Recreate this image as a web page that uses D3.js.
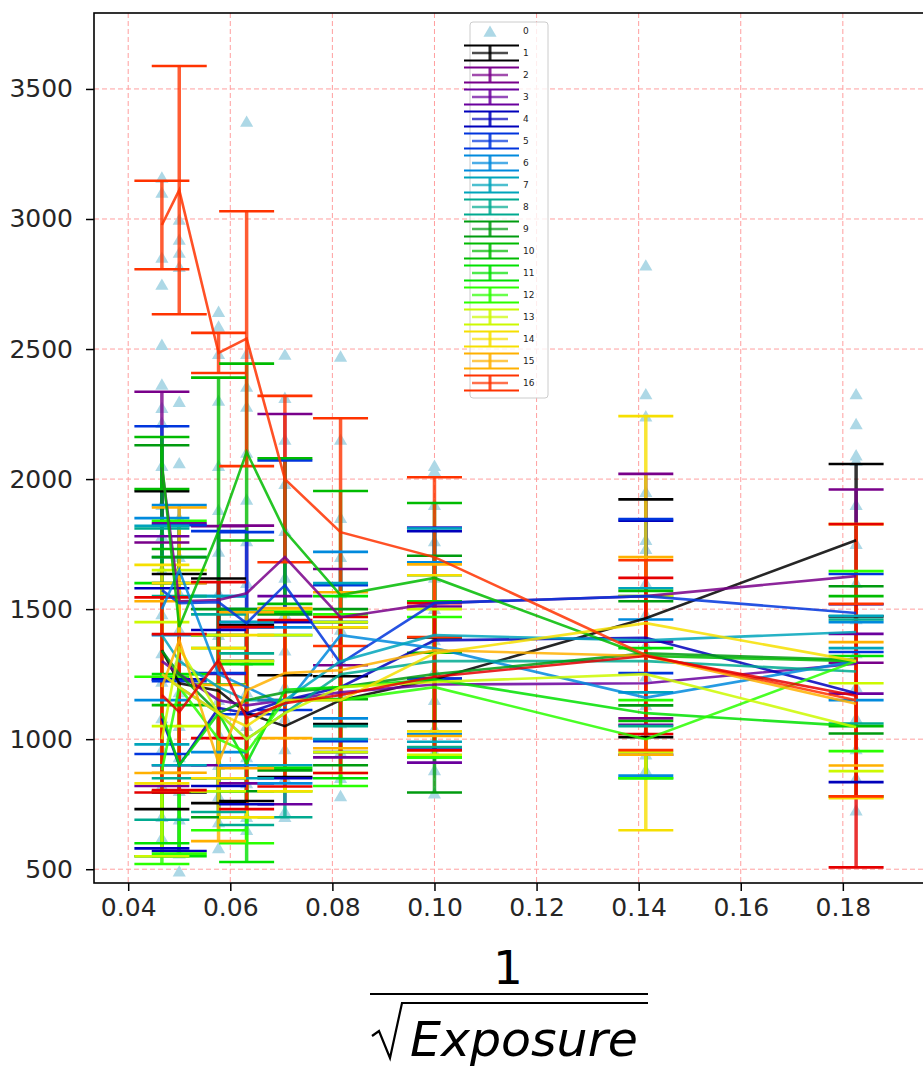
<!DOCTYPE html>
<html>
<head>
<meta charset="utf-8">
<script src="https://cdn.jsdelivr.net/npm/d3@7"></script>
<style>
  html, body { margin: 0; padding: 0; background: #ffffff; }
  svg { display: block; font-family: "DejaVu Sans", sans-serif; }
</style>
</head>
<body>
<svg id="chart" width="923" height="1068"></svg>
<script>
// x positions: 1 / sqrt(exposure)
const xVals = [0.0466, 0.05, 0.0577, 0.0632, 0.0707, 0.0816, 0.1, 0.1414, 0.1826];

const xTicks = [0.04, 0.06, 0.08, 0.10, 0.12, 0.14, 0.16, 0.18];
const yTicks = [500, 1000, 1500, 2000, 2500, 3000, 3500];

// raw observations (series 0), one list per x position
const rawPoints = [
  [3158, 3100, 2850, 2746, 2515, 2362, 2273, 2215, 2050, 1900, 1780, 1650, 1480, 1330, 1220, 1080, 960, 820, 700, 620],
  [2996, 2919, 2869, 2815, 2296, 2060, 1850, 1700, 1560, 1420, 1300, 1180, 1050, 930, 800, 690, 560, 490],
  [2642, 2585, 2480, 2300, 2050, 1880, 1720, 1560, 1400, 1270, 1150, 1020, 900, 780, 680, 580],
  [3373, 2480, 2354, 2277, 2100, 1920, 1760, 1600, 1450, 1300, 1180, 1050, 930, 830, 700, 650],
  [2477, 2311, 2150, 1980, 1800, 1620, 1480, 1340, 1200, 1080, 960, 850, 720, 700],
  [2470, 2150, 1850, 1700, 1560, 1420, 1300, 1180, 1060, 950, 850, 780],
  [2050, 2030, 1900, 1760, 1620, 1500, 1380, 1260, 1150, 1040, 950, 880, 790],
  [2820, 2325, 2240, 1950, 1765, 1730, 1600, 1480, 1360, 1240, 1130, 1020, 940, 880],
  [2325, 2210, 2090, 2070, 1900, 1750, 1600, 1460, 1330, 1200, 1080, 960, 850, 725]
];

// series labels shown in the legend
const legendLabels = ["0", "1", "2", "3", "4", "5", "6", "7", "8", "9", "10", "11", "12", "13", "14", "15", "16"];

// nipy_spectral samples, one per error-bar series (1..17)
const seriesColors = [
  "#000000", "#79008a", "#6a009d", "#0000bb", "#0035dd", "#008add", "#00a4bb", "#00aa90",
  "#009b0f", "#00bb00", "#00e100", "#2aff00", "#ccf900", "#f6df00", "#ffb000", "#ff3300", "#e50000"
];

// mean per x position, series 1..17
const seriesMeans = [
  [1342, 1215, 1186, 1100, 1050, 1150, 1230, 1465, 1765],
  [2046, 1530, 1535, 1561, 1700, 1469, 1523, 1550, 1627],
  [1300, 1250, 1150, 1130, 1150, 1180, 1210, 1215, 1290],
  [1080,  900, 1120, 1100, 1150, 1200, 1380, 1390, 1177],
  [1573, 1523, 1527, 1446, 1592, 1292, 1523, 1550, 1485],
  [1500, 1650, 1250, 1200, 1130, 1400, 1350, 1160, 1300],
  [1400, 1300, 1200, 1150, 1150, 1300, 1400, 1380, 1412],
  [1250, 1200, 1100, 1000, 1100, 1250, 1300, 1300, 1260],
  [1340, 1250, 1100, 1150, 1180, 1200, 1250, 1330, 1305],
  [2062, 1431, 1800, 2104, 1800, 1554, 1620, 1320, 1300],
  [1100,  900, 1100,  908, 1190, 1200, 1230, 1100, 1050],
  [ 880, 1200, 1000,  950, 1150, 1150, 1200, 1000, 1300],
  [1000, 1350, 1100, 1000, 1100, 1200, 1220, 1250, 1046],
  [1250, 1200, 1100, 1050, 1150, 1150, 1330, 1446, 1300],
  [1200, 1381,  908, 1188, 1254, 1265, 1342, 1320, 1136],
  [2977, 3111, 2485, 2540, 2000, 1796, 1700, 1323, 1150],
  [1170, 1104, 1304, 1081, 1138, 1170, 1240, 1320, 1167]
];

// symmetric error per x position, series 1..17
const seriesErrors = [
  [611, 420, 432, 338, 196,  92, 161, 457, 293],
  [290, 300, 284, 260, 550, 185, 290, 470, 333],
  [480, 350, 250, 300, 400, 250, 300, 160, 115],
  [500, 330, 300, 350, 300, 250, 420, 450, 342],
  [630, 300, 273, 350, 480, 300, 290, 296, 150],
  [350, 250, 300, 300, 300, 320, 330, 300, 150],
  [420, 400, 350, 300, 250, 300, 410, 200,  62],
  [560, 350, 380, 330, 400, 200, 330, 250, 200],
  [790, 450, 400, 350, 300, 300, 455, 200, 283],
  [100, 300, 590, 340, 280, 400, 288, 250, 250],
  [500, 350, 300, 380, 300, 350, 300, 250, 270],
  [360, 640, 350, 350, 350, 330, 270, 150, 346],
  [450, 300, 300, 300, 300, 250, 280, 300, 169],
  [420, 400, 250, 350, 350, 280, 300, 796, 527],
  [330, 510, 300, 300, 250, 300, 330, 380, 237],
  [170, 477,  77, 490, 320, 438, 307, 365, 370],
  [375, 300, 300, 350, 320, 300, 283, 300, 660]
];

const svg = d3.select("#chart");
const plot = { left: 94, top: 13, right: 924, bottom: 883 };

const x = d3.scaleLinear().domain([0.0333, 0.1959]).range([plot.left, plot.right]);
const y = d3.scaleLinear().domain([447, 3792]).range([plot.bottom, plot.top]);

const capHalf = 27.5;
const gridColor = "#ff9f9f";

svg.append("defs").append("clipPath").attr("id", "plotClip")
  .append("rect")
  .attr("x", plot.left).attr("y", plot.top)
  .attr("width", plot.right - plot.left).attr("height", plot.bottom - plot.top);

// grid
const grid = svg.append("g");
grid.selectAll("line.gx").data(xTicks).join("line")
  .attr("x1", d => x(d)).attr("x2", d => x(d))
  .attr("y1", plot.top).attr("y2", plot.bottom)
  .attr("stroke", gridColor).attr("stroke-width", 1).attr("stroke-dasharray", "5,3");
grid.selectAll("line.gy").data(yTicks).join("line")
  .attr("y1", d => y(d)).attr("y2", d => y(d))
  .attr("x1", plot.left).attr("x2", plot.right)
  .attr("stroke", gridColor).attr("stroke-width", 1).attr("stroke-dasharray", "5,3");

const marks = svg.append("g").attr("clip-path", "url(#plotClip)");

// raw observations as triangles
const tri = d3.symbol().type(d3.symbolTriangle).size(75);
const rawFlat = [];
rawPoints.forEach((vals, i) => vals.forEach(v => rawFlat.push({ x: xVals[i], v })));
marks.append("g").selectAll("path").data(rawFlat).join("path")
  .attr("d", tri)
  .attr("transform", d => `translate(${x(d.x)},${y(d.v) + 1})`)
  .attr("fill", "#add8e6");

// error bars
const series = seriesMeans.map((means, s) => ({
  color: seriesColors[s],
  pts: means.map((m, i) => ({ x: xVals[i], m, e: seriesErrors[s][i] }))
}));

const barLayer = marks.append("g");
const capLayer = marks.append("g");
const lineLayer = marks.append("g");
const line = d3.line().x(d => x(d.x)).y(d => y(d.m));

series.forEach(sr => {
  barLayer.append("g").selectAll("line").data(sr.pts).join("line")
    .attr("x1", d => x(d.x)).attr("x2", d => x(d.x))
    .attr("y1", d => y(d.m + d.e)).attr("y2", d => y(d.m - d.e))
    .attr("stroke", sr.color).attr("stroke-width", 3.5).attr("stroke-opacity", 0.8);
  const caps = [];
  sr.pts.forEach(d => { caps.push({ x: d.x, v: d.m + d.e }); caps.push({ x: d.x, v: d.m - d.e }); });
  capLayer.append("g").selectAll("line").data(caps).join("line")
    .attr("x1", d => x(d.x) - capHalf).attr("x2", d => x(d.x) + capHalf)
    .attr("y1", d => y(d.v)).attr("y2", d => y(d.v))
    .attr("stroke", sr.color).attr("stroke-width", 2.6);
});
series.forEach(sr => {
  lineLayer.append("path").datum(sr.pts)
    .attr("d", line).attr("fill", "none")
    .attr("stroke", sr.color).attr("stroke-width", 2.6).attr("stroke-opacity", 0.85)
    .attr("stroke-linejoin", "miter");
});

// axes
const xAxis = d3.axisBottom(x).tickValues(xTicks).tickFormat(d3.format(".2f")).tickSize(8).tickPadding(7);
const yAxis = d3.axisLeft(y).tickValues(yTicks).tickFormat(d3.format("d")).tickSize(8).tickPadding(13);

const gx = svg.append("g").attr("transform", `translate(0,${plot.bottom})`).call(xAxis);
const gy = svg.append("g").attr("transform", `translate(${plot.left},0)`).call(yAxis);
[gx, gy].forEach(g => {
  g.select(".domain").remove();
  g.selectAll(".tick line").attr("stroke", "#000").attr("stroke-width", 1.5);
  g.selectAll(".tick text").attr("fill", "#262626").attr("font-size", 25)
    .attr("font-family", "DejaVu Sans, sans-serif");
});

// frame
svg.append("rect")
  .attr("x", plot.left).attr("y", plot.top)
  .attr("width", plot.right - plot.left).attr("height", plot.bottom - plot.top)
  .attr("fill", "none").attr("stroke", "#000").attr("stroke-width", 1.6);

// legend
const legend = svg.append("g");
legend.append("rect")
  .attr("x", 470).attr("y", 22).attr("width", 78).attr("height", 376)
  .attr("rx", 3).attr("fill", "#ffffff").attr("fill-opacity", 0.8)
  .attr("stroke", "#cccccc").attr("stroke-width", 1);
const rowY = i => 31 + 22 * i;
legend.append("path").attr("d", tri)
  .attr("transform", `translate(490,${rowY(0) + 2})`).attr("fill", "#add8e6");
legendLabels.slice(1).forEach((lab, k) => {
  const cy = rowY(k + 1);
  const c = seriesColors[k];
  const g = legend.append("g");
  g.append("line").attr("x1", 472).attr("x2", 508).attr("y1", cy).attr("y2", cy)
    .attr("stroke", c).attr("stroke-width", 2.5).attr("stroke-opacity", 0.7);
  g.append("line").attr("x1", 490).attr("x2", 490).attr("y1", cy - 7.5).attr("y2", cy + 7.5)
    .attr("stroke", c).attr("stroke-width", 3).attr("stroke-opacity", 0.85);
  [cy - 7.5, cy + 7.5].forEach(yy => g.append("line")
    .attr("x1", 464).attr("x2", 519).attr("y1", yy).attr("y2", yy)
    .attr("stroke", c).attr("stroke-width", 2));
});
legend.selectAll("text").data(legendLabels).join("text")
  .attr("x", 523).attr("y", (d, i) => rowY(i) + 3)
  .attr("font-size", 9).attr("fill", "#222").text(d => d);

// x label: 1 / sqrt(Exposure)
const xl = svg.append("g");
xl.append("text").attr("x", 508).attr("y", 984).attr("text-anchor", "middle")
  .attr("font-size", 47).attr("fill", "#000").text("1");
xl.append("line").attr("x1", 370).attr("x2", 648).attr("y1", 994).attr("y2", 994)
  .attr("stroke", "#000").attr("stroke-width", 2);
xl.append("path")
  .attr("d", "M372,1036 L379,1031 L390,1058 L402,1003 L648,1003")
  .attr("fill", "none").attr("stroke", "#000").attr("stroke-width", 2.2);
xl.append("text").attr("x", 410).attr("y", 1056)
  .attr("font-size", 48).attr("font-style", "italic").attr("fill", "#000")
  .attr("textLength", 228).attr("lengthAdjust", "spacingAndGlyphs").text("Exposure");
</script>
</body>
</html>
